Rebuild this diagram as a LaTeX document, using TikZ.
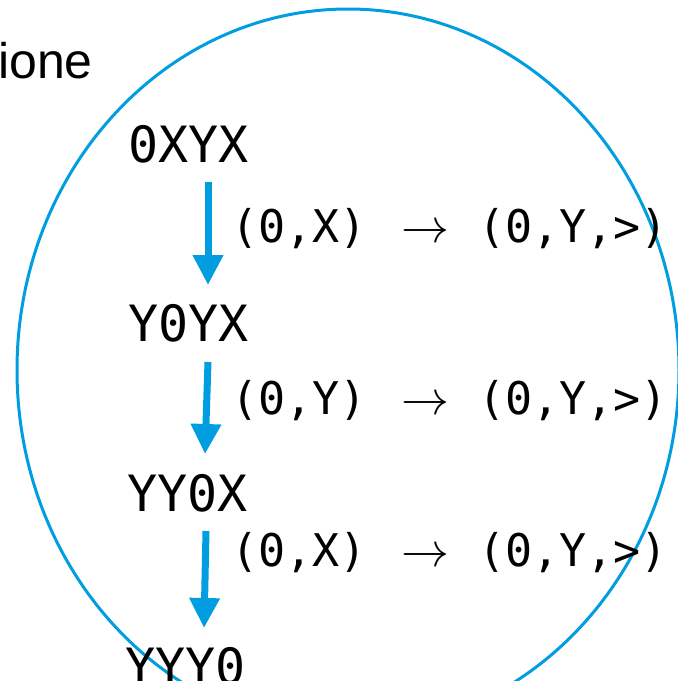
\documentclass[tikz,border=0pt]{standalone}
\usepackage{graphicx}
\usepackage{fontspec}
\setmainfont{Liberation Sans}
\setmonofont{DejaVu Sans Mono}
\usetikzlibrary{arrows.meta}
\definecolor{cblue}{RGB}{0,158,224}
\newcommand{\bigto}{\scalebox{4.8}{$\rightarrow$}}
\tikzset{
  statetxt/.style={inner sep=0pt, anchor=base west, font=\ttfamily\fontsize{50pt}{60pt}\selectfont},
  ruletxt/.style={inner sep=0pt, anchor=base, font=\ttfamily\fontsize{45pt}{54pt}\selectfont},
  arrtxt/.style={inner sep=0pt, anchor=base},
  steparrow/.style={draw=cblue, line width=7pt, -{Triangle[width=29pt,length=30pt]}},
  ring/.style={draw=cblue, line width=3pt}
}
\begin{document}
\begin{tikzpicture}[x=1pt,y=-1pt]
\useasboundingbox (0,0) rectangle (678,681);
\clip (0,0) rectangle (678,681);
% ellipse
\draw[ring] (348,370) ellipse [x radius=331, y radius=361];
% top-left text
\node[inner sep=0pt, anchor=base west, font=\fontsize{50pt}{58pt}\selectfont] (lbl) at (-2,78) {ione};
% states
\node[statetxt] (s1) at (128,162) {0XYX};
\node[statetxt] (s2) at (128,341) {Y0YX};
\node[statetxt] (s3) at (127,511) {YY0X};
\node[statetxt] (s4) at (125,684) {YYY0};
% rules
\node[ruletxt] (r1a) at (299,242) {(0,X)};
\node[arrtxt]  (r1b) at (425,242) {\bigto};
\node[ruletxt] (r1c) at (573,242) {(0,Y,>)};
\node[ruletxt] (r2a) at (299,414) {(0,Y)};
\node[arrtxt]  (r2b) at (425,414) {\bigto};
\node[ruletxt] (r2c) at (573,414) {(0,Y,>)};
\node[ruletxt] (r3a) at (299,566) {(0,X)};
\node[arrtxt]  (r3b) at (425,566) {\bigto};
\node[ruletxt] (r3c) at (573,566) {(0,Y,>)};
% arrow ends
\coordinate (a1s) at (208,182);
\coordinate (a1e) at (208,285);
\coordinate (a2s) at (208,362);
\coordinate (a2e) at (205,454);
\coordinate (a3s) at (206,531);
\coordinate (a3e) at (204,628);
\draw[steparrow] (a1s) -- (a1e);
\draw[steparrow] (a2s) -- (a2e);
\draw[steparrow] (a3s) -- (a3e);
\end{tikzpicture}
\end{document}
